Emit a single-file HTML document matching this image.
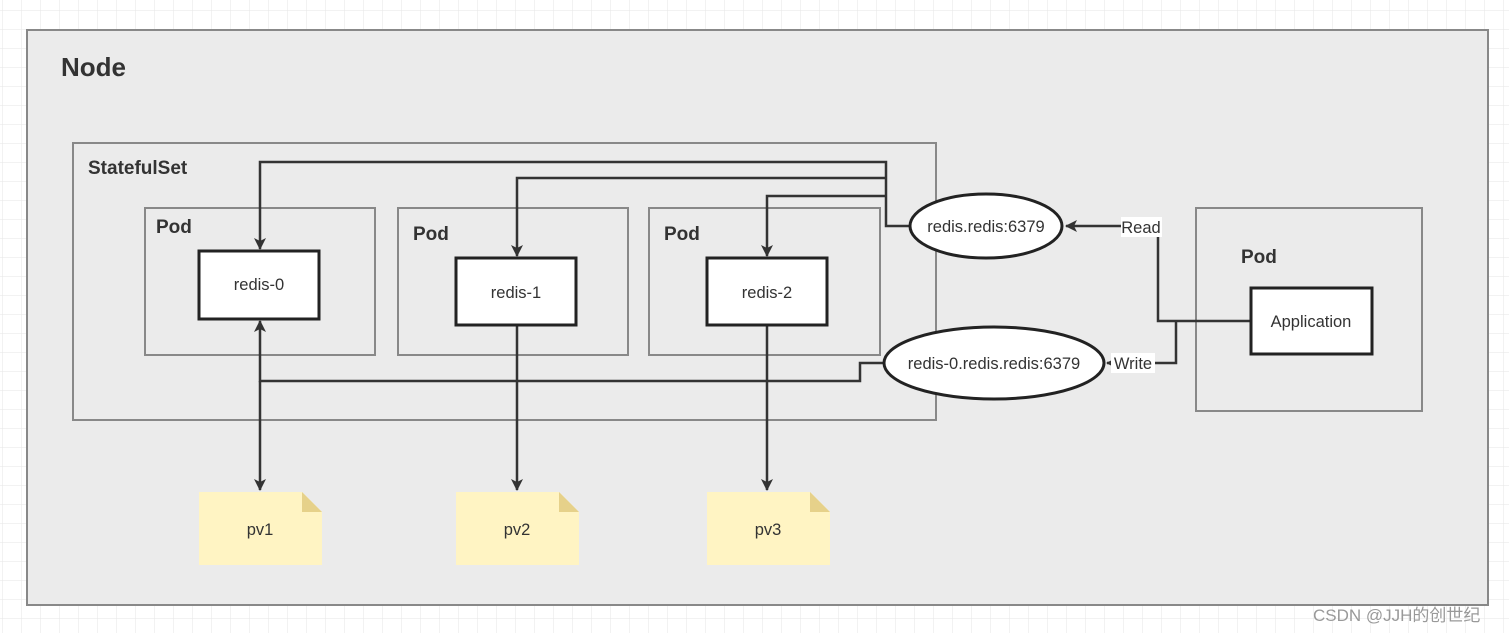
<!DOCTYPE html>
<html><head><meta charset="utf-8"><style>
html,body{margin:0;padding:0;background:#fff}
svg{display:block}
text{font-family:"Liberation Sans","Noto Sans CJK SC",sans-serif}
</style></head><body>
<svg width="1509" height="633" viewBox="0 0 1509 633" xmlns="http://www.w3.org/2000/svg">
<defs>
<pattern id="g" width="19" height="19" patternUnits="userSpaceOnUse" x="3" y="11">
<path d="M19 0V19M0 19H19" fill="none" stroke="#e6e6e6" stroke-width="1"/>
</pattern>
<marker id="a" markerWidth="12" markerHeight="12" refX="11" refY="6" orient="auto" markerUnits="userSpaceOnUse">
<path d="M0,0 L12,6 L0,12 L3,6 Z" fill="#333"/>
</marker>
<marker id="as" markerWidth="7" markerHeight="7" refX="6" refY="3.5" orient="auto" markerUnits="userSpaceOnUse">
<path d="M0,0 L7,3.5 L0,7 Z" fill="#333"/>
</marker>
</defs>
<rect width="1509" height="633" fill="url(#g)"/>
<rect x="27" y="30" width="1461" height="575" fill="#ebebeb" stroke="#888" stroke-width="2"/>
<text x="61" y="76" font-size="26" font-weight="bold" fill="#333">Node</text>
<rect x="73" y="143" width="863" height="277" fill="none" stroke="#888" stroke-width="2"/>
<text x="88" y="174" font-size="19" font-weight="bold" fill="#333">StatefulSet</text>
<g fill="none" stroke="#888" stroke-width="2">
<rect x="145" y="208" width="230" height="147"/>
<rect x="398" y="208" width="230" height="147"/>
<rect x="649" y="208" width="231" height="147"/>
<rect x="1196" y="208" width="226" height="203"/>
</g>
<g font-size="19" font-weight="bold" fill="#333">
<text x="156" y="233">Pod</text>
<text x="413" y="240">Pod</text>
<text x="664" y="240">Pod</text>
<text x="1241" y="263">Pod</text>
</g>
<g fill="none" stroke="#333" stroke-width="2.5">
<path d="M910 226H886V162H260V249" marker-end="url(#a)"/>
<path d="M886 178H517V256" marker-end="url(#a)"/>
<path d="M886 196H767V256" marker-end="url(#a)"/>
<path d="M1251 321H1158V226H1066" marker-end="url(#a)"/>
<path d="M1176 321V363H1107" marker-end="url(#as)"/>
<path d="M884 363H860V381H260V321" marker-end="url(#a)"/>
<path d="M260 381V490" marker-end="url(#a)"/>
<path d="M517 325V490" marker-end="url(#a)"/>
<path d="M767 325V490" marker-end="url(#a)"/>
</g>
<g fill="#fff" stroke="#222" stroke-width="3">
<rect x="199" y="251" width="120" height="68"/>
<rect x="456" y="258" width="120" height="67"/>
<rect x="707" y="258" width="120" height="67"/>
<rect x="1251" y="288" width="121" height="66"/>
<ellipse cx="986" cy="226" rx="76" ry="32"/>
<ellipse cx="994" cy="363" rx="110" ry="36"/>
</g>
<g font-size="16.5" fill="#333" text-anchor="middle">
<text x="259" y="290">redis-0</text>
<text x="516" y="298">redis-1</text>
<text x="767" y="298">redis-2</text>
<text x="1311" y="327">Application</text>
<text x="986" y="232">redis.redis:6379</text>
<text x="994" y="369">redis-0.redis.redis:6379</text>
</g>
<rect x="1121" y="217" width="41" height="20" fill="#fff"/>
<text x="1141" y="233" font-size="16.5" fill="#333" text-anchor="middle">Read</text>
<rect x="1111" y="353" width="44" height="20" fill="#fff"/>
<text x="1133" y="369" font-size="16.5" fill="#333" text-anchor="middle">Write</text>
<g>
<path d="M199 492H302L322 512V565H199Z" fill="#fff4c3"/><path d="M302 492L322 512H302Z" fill="#e6d18a"/>
<path d="M456 492H559L579 512V565H456Z" fill="#fff4c3"/><path d="M559 492L579 512H559Z" fill="#e6d18a"/>
<path d="M707 492H810L830 512V565H707Z" fill="#fff4c3"/><path d="M810 492L830 512H810Z" fill="#e6d18a"/>
</g>
<g font-size="16.5" fill="#333" text-anchor="middle">
<text x="260" y="535">pv1</text>
<text x="517" y="535">pv2</text>
<text x="768" y="535">pv3</text>
</g>
<text x="1313" y="621" font-size="17" fill="#999">CSDN @JJH的创世纪</text>
</svg>
</body></html>
